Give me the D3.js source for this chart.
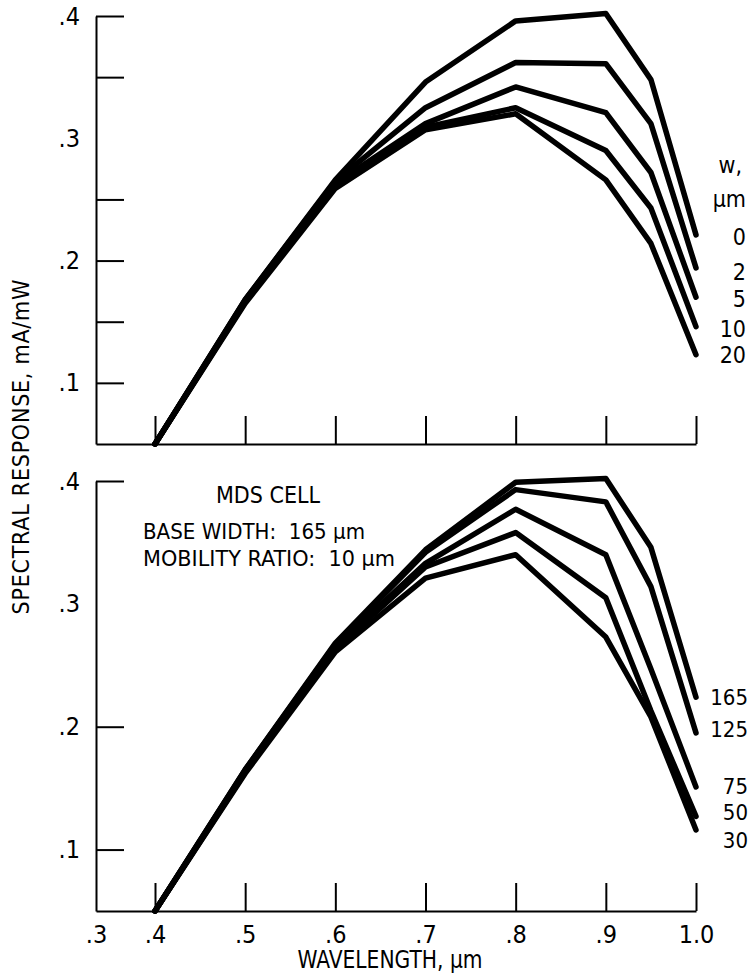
<!DOCTYPE html>
<html>
<head>
<meta charset="utf-8">
<script src="https://cdn.jsdelivr.net/npm/d3@7"></script>
<style>
  body { margin: 0; background: #fff; }
  svg { display: block; }
  text { font-family: "Liberation Sans Narrow", "DejaVu Sans Condensed", sans-serif; fill: #000; white-space: pre; }
</style>
</head>
<body>
<div class="chart"></div>
<script>
// wavelength points (µm) shared by every curve
const wavelengths = [0.4, 0.5, 0.6, 0.7, 0.8, 0.9, 0.95, 1.0];

// top panel: junction depth w, µm
const topLabels = ["0", "2", "5", "10", "20"];
const w0  = [0.05, 0.168, 0.266, 0.346, 0.396, 0.402, 0.348, 0.221];
const w2  = [0.05, 0.168, 0.265, 0.325, 0.362, 0.361, 0.312, 0.194];
const w5  = [0.05, 0.167, 0.263, 0.312, 0.342, 0.321, 0.272, 0.170];
const w10 = [0.05, 0.166, 0.261, 0.309, 0.325, 0.290, 0.243, 0.146];
const w20 = [0.05, 0.165, 0.259, 0.307, 0.320, 0.266, 0.214, 0.123];

// bottom panel: MDS cell, base width in µm
const bottomLabels = ["165", "125", "75", "50", "30"];
const b165 = [0.05, 0.165, 0.268, 0.344, 0.399, 0.402, 0.346, 0.224];
const b125 = [0.05, 0.165, 0.267, 0.342, 0.393, 0.383, 0.314, 0.195];
const b75  = [0.05, 0.164, 0.265, 0.333, 0.377, 0.340, 0.247, 0.151];
const b50  = [0.05, 0.163, 0.263, 0.330, 0.358, 0.305, 0.213, 0.127];
const b30  = [0.05, 0.162, 0.261, 0.321, 0.340, 0.273, 0.208, 0.116];

// axis ticks
const xTicks = [0.4, 0.5, 0.6, 0.7, 0.8, 0.9, 1.0];
const xTickLabels = [".3", ".4", ".5", ".6", ".7", ".8", ".9", "1.0"];
const yTicksTop = [0.1, 0.15, 0.2, 0.25, 0.3, 0.35, 0.4];
const yTicksBottom = [0.1, 0.2, 0.3, 0.4];

const W = 752, H = 977;
const svg = d3.select('div.chart').append('svg')
    .attr('width', W)
    .attr('height', H);

// origin of the x axis is labelled .3, but sits closer than the other steps
const x = d3.scaleLinear().domain([0.3, 0.4, 1.0]).range([96, 155, 696]);
const yTop = d3.scaleLinear().domain([0.05, 0.4]).range([444, 16]);
const yBot = d3.scaleLinear().domain([0.05, 0.4]).range([911, 481]);

const fmtY = d => Math.abs(d * 10 - Math.round(d * 10)) < 1e-9 ? d3.format(".1f")(d).replace(/^0/, "") : "";

function drawPanel(y, series, yTicks, showXLabels) {
    const g = svg.append('g');

    const yAxis = d3.axisLeft(y)
        .tickValues(yTicks)
        .tickSize(-28)
        .tickSizeOuter(0)
        .tickPadding(16)
        .tickFormat(fmtY);
    g.append('g')
        .attr('transform', `translate(${x(0.3)},0)`)
        .call(yAxis);

    const xAxis = d3.axisBottom(x)
        .tickValues(showXLabels ? [0.3].concat(xTicks) : xTicks)
        .tickSize(-28)
        .tickSizeOuter(0)
        .tickPadding(14)
        .tickFormat((d, i) => showXLabels ? xTickLabels[i] : "");
    g.append('g')
        .attr('transform', `translate(0,${y.range()[0]})`)
        .call(xAxis);

    g.selectAll('.domain, .tick line')
        .attr('stroke', '#000')
        .attr('stroke-width', 2);
    g.selectAll('.tick text')
        .attr('font-size', 25)
        .style('font-family', '"Liberation Sans Narrow", "DejaVu Sans Condensed", sans-serif');
    // the .3 tick would sit on the y axis
    g.selectAll('.tick').filter(d => d === 0.3).select('line').remove();

    const line = d3.line()
        .x((d, i) => x(wavelengths[i]))
        .y(d => y(d));

    g.selectAll('path.curve')
        .data(series)
        .enter()
        .append('path')
        .attr('class', 'curve')
        .attr('d', d => line(d))
        .attr('fill', 'none')
        .attr('stroke', '#000')
        .attr('stroke-width', 5.5)
        .attr('stroke-linejoin', 'round')
        .attr('stroke-linecap', 'round');
    return g;
}

drawPanel(yTop, [w0, w2, w5, w10, w20], yTicksTop, false);
drawPanel(yBot, [b165, b125, b75, b50, b30], yTicksBottom, true);

// legend, top panel
const leg = svg.append('g').attr('font-size', 23).attr('text-anchor', 'end');
leg.append('text').attr('x', 742).attr('y', 173).text('w,');
leg.append('text').attr('x', 746).attr('y', 207).text('µm');
const topY = [245, 280, 307, 337, 363];
topLabels.forEach((t, i) => {
    leg.append('text').attr('x', 746).attr('y', topY[i]).text(t);
});

// legend, bottom panel
const botY = [705, 737, 794, 820, 848];
bottomLabels.forEach((t, i) => {
    leg.append('text').attr('x', 748).attr('y', botY[i]).attr('font-size', 22).text(t);
});

// annotation
const note = svg.append('g').attr('font-size', 22);
note.append('text').attr('x', 268).attr('y', 503).attr('text-anchor', 'middle').attr('font-size', 23).text('MDS CELL');
note.append('text').attr('x', 143).attr('y', 539)
    .attr('textLength', 222).attr('lengthAdjust', 'spacingAndGlyphs')
    .text('BASE WIDTH:  165 µm');
note.append('text').attr('x', 143).attr('y', 566)
    .attr('textLength', 252).attr('lengthAdjust', 'spacingAndGlyphs')
    .text('MOBILITY RATIO:  10 µm');

// axis titles
svg.append('text')
    .attr('x', 390).attr('y', 968)
    .attr('text-anchor', 'middle')
    .attr('font-size', 24)
    .attr('textLength', 185).attr('lengthAdjust', 'spacingAndGlyphs')
    .text('WAVELENGTH, µm');

svg.append('text')
    .attr('transform', 'translate(29,447) rotate(-90)')
    .attr('text-anchor', 'middle')
    .attr('font-size', 23)
    .attr('textLength', 335).attr('lengthAdjust', 'spacing')
    .text('SPECTRAL RESPONSE, mA/mW');
</script>
</body>
</html>
